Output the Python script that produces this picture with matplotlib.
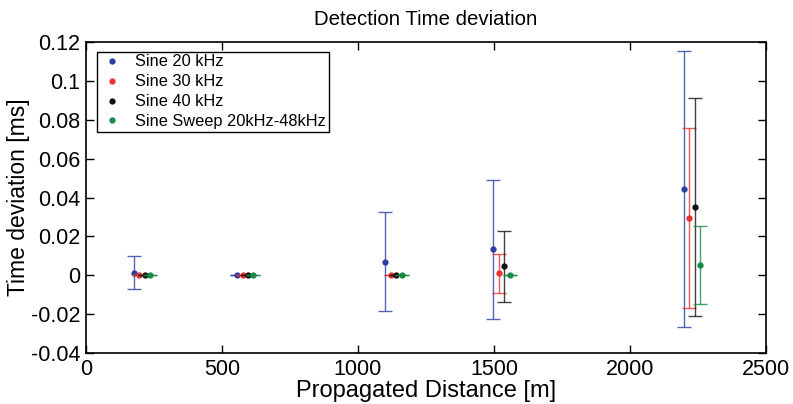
import numpy as np
import matplotlib
matplotlib.use('Agg')
import matplotlib.pyplot as plt

plt.rcParams['font.family'] = ['Liberation Sans', 'DejaVu Sans']

labels = ['Sine 20 kHz', 'Sine 30 kHz', 'Sine 40 kHz', 'Sine Sweep 20kHz-48kHz']
colors = ['#2b3fa0', '#e8312a', '#111111', '#178a45']

# distance [m] per series
dist_20 = [176, 555, 1100, 1497, 2197]
dist_30 = [196, 576, 1120, 1518, 2218]
dist_40 = [217, 597, 1140, 1538, 2238]
dist_sw = [236, 615, 1160, 1557, 2259]

# mean time deviation [ms]
mean_20 = [0.0014, 0.0, 0.0070, 0.0134, 0.0446]
mean_30 = [0.0, 0.0, 0.0, 0.0012, 0.0292]
mean_40 = [0.0, 0.0, 0.0, 0.0046, 0.0351]
mean_sw = [0.0, 0.0, 0.0, 0.0002, 0.0055]

# error bar top / bottom [ms]
top_20 = [0.0099, 0.0, 0.0325, 0.0489, 0.1154]
bot_20 = [-0.0069, 0.0, -0.0185, -0.0225, -0.0266]
top_30 = [0.0, 0.0, 0.0, 0.0110, 0.0755]
bot_30 = [0.0, 0.0, 0.0, -0.0089, -0.0171]
top_40 = [0.0, 0.0, 0.0, 0.0228, 0.0910]
bot_40 = [0.0, 0.0, 0.0, -0.0139, -0.0211]
top_sw = [0.0, 0.0, 0.0, 0.0002, 0.0254]
bot_sw = [0.0, 0.0, 0.0, 0.0002, -0.0146]

series = [
    (dist_20, mean_20, top_20, bot_20),
    (dist_30, mean_30, top_30, bot_30),
    (dist_40, mean_40, top_40, bot_40),
    (dist_sw, mean_sw, top_sw, bot_sw),
]

fig = plt.figure(figsize=(7.93, 4.04), dpi=100)
ax = fig.add_axes([86 / 793, 1 - 353 / 404, 680 / 793, 311 / 404])

for (x, m, t, b), c, lab in zip(series, colors, labels):
    m = np.array(m)
    yerr = [m - np.array(b), np.array(t) - m]
    ax.errorbar(x, m, yerr=yerr, fmt='none', ecolor=c, elinewidth=1.0,
                capsize=5, capthick=1.0, alpha=0.8)
    ax.plot(x, m, 'o', color=c, markersize=3.5, label=lab, linestyle='none')

ax.set_xlim(0, 2500)
ax.set_ylim(-0.04, 0.12)
ax.set_xticks([0, 500, 1000, 1500, 2000, 2500])
ax.set_yticks(np.arange(-0.04, 0.121, 0.02))
ax.set_yticklabels(['-0.04', '-0.02', '0', '0.02', '0.04', '0.06', '0.08', '0.1', '0.12'])
ax.tick_params(direction='in', length=6, width=1, labelsize=15.5,
               top=True, right=True, pad=4)
for s in ax.spines.values():
    s.set_linewidth(1.2)

ax.set_xlabel('Propagated Distance [m]', fontsize=17, labelpad=0)
ax.set_ylabel('Time deviation [ms]', fontsize=16.5, labelpad=1)
ax.set_title('Detection Time deviation', fontsize=14.7, pad=12)

leg = ax.legend(loc='upper left', bbox_to_anchor=(0.016, 0.968), fontsize=11.8,
                frameon=True, fancybox=False, edgecolor='black', framealpha=1,
                handlelength=1.5, handletextpad=0.7, borderpad=0.15,
                labelspacing=0.3, borderaxespad=0)
leg.get_frame().set_linewidth(1.0)

fig.savefig('out.png', dpi=100)
